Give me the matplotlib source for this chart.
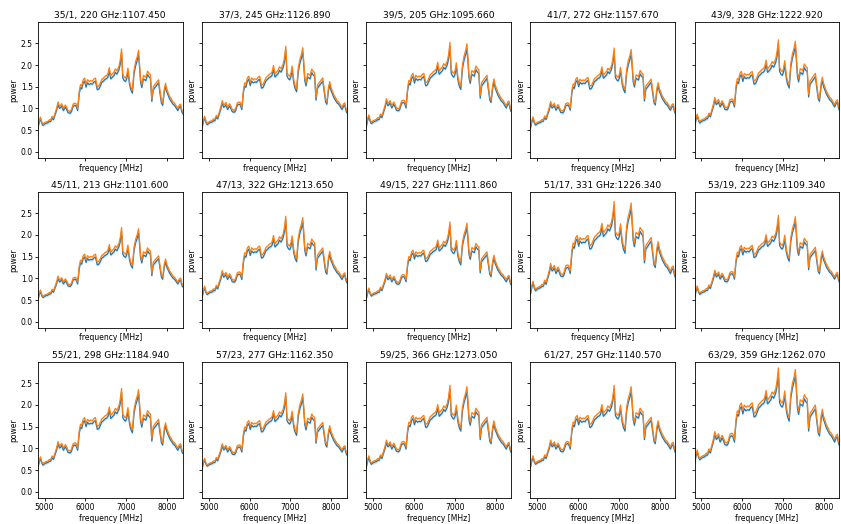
import numpy as np
import matplotlib
matplotlib.use("Agg")
import matplotlib.pyplot as plt

# panel titles, row by row
titles = [
    "35/1, 220 GHz:1107.450", "37/3, 245 GHz:1126.890", "39/5, 205 GHz:1095.660",
    "41/7, 272 GHz:1157.670", "43/9, 328 GHz:1222.920",
    "45/11, 213 GHz:1101.600", "47/13, 322 GHz:1213.650", "49/15, 227 GHz:1111.860",
    "51/17, 331 GHz:1226.340", "53/19, 223 GHz:1109.340",
    "55/21, 298 GHz:1184.940", "57/23, 277 GHz:1162.350", "59/25, 366 GHz:1273.050",
    "61/27, 257 GHz:1140.570", "63/29, 359 GHz:1262.070",
]

# peak power (orange)
peaks = [2.37, 2.43, 2.52, 2.39, 2.58,
         2.17, 2.43, 2.30, 2.77, 2.45,
         2.38, 2.28, 2.45, 2.45, 2.85]

# spectrum shape
freq = [4837, 4870, 4900, 4935, 4960, 5000, 5040, 5080, 5120, 5150,
        5185, 5220, 5260, 5300, 5330, 5365, 5400, 5420, 5460, 5510,
        5545, 5575, 5630, 5660, 5700, 5740, 5770, 5810, 5850, 5880,
        5910, 5945, 5980, 6015, 6050, 6090, 6130, 6170, 6210, 6245,
        6290, 6330, 6370, 6400, 6440, 6480, 6520, 6550, 6585, 6620,
        6660, 6700, 6730, 6770, 6820, 6850, 6885, 6915, 6950, 6980,
        7010, 7040, 7080, 7110, 7150, 7190, 7230, 7270, 7300, 7320,
        7350, 7380, 7420, 7450, 7480, 7520, 7560, 7590, 7625, 7660,
        7700, 7740, 7790, 7820, 7860, 7890, 7930, 7960, 7990, 8030,
        8060, 8100, 8140, 8180, 8220, 8260, 8300, 8330, 8350, 8376]

orange = [0.57, 0.72, 0.80, 0.68, 0.64, 0.67, 0.69, 0.70, 0.74, 0.73,
          0.82, 0.78, 0.90, 1.02, 1.15, 1.05, 1.08, 1.11, 1.00, 1.08,
          1.02, 0.95, 0.93, 0.98, 1.10, 1.12, 1.11, 1.00, 1.40, 1.55,
          1.52, 1.66, 1.70, 1.56, 1.66, 1.62, 1.64, 1.63, 1.68, 1.70,
          1.50, 1.52, 1.60, 1.67, 1.70, 1.74, 1.76, 1.80, 1.94, 1.75,
          1.80, 1.84, 1.91, 1.87, 1.97, 2.10, 2.37, 1.78, 1.72, 1.70,
          1.76, 1.93, 1.62, 1.50, 1.42, 1.88, 2.08, 2.20, 2.34, 2.10,
          1.67, 1.55, 1.76, 1.74, 1.72, 1.86, 1.80, 1.78, 1.22, 1.50,
          1.55, 1.60, 1.66, 1.45, 1.18, 1.12, 1.45, 1.58, 1.45, 1.35,
          1.28, 1.22, 1.15, 1.12, 1.06, 1.00, 1.08, 1.10, 1.00, 0.93]

blue = [0.54, 0.68, 0.76, 0.65, 0.61, 0.64, 0.66, 0.67, 0.70, 0.70,
        0.78, 0.74, 0.86, 0.97, 1.10, 1.00, 1.03, 1.06, 0.95, 1.03,
        0.97, 0.90, 0.89, 0.93, 1.05, 1.07, 1.06, 0.95, 1.34, 1.48,
        1.45, 1.59, 1.63, 1.49, 1.59, 1.55, 1.57, 1.56, 1.61, 1.63,
        1.43, 1.45, 1.53, 1.60, 1.63, 1.67, 1.69, 1.72, 1.86, 1.68,
        1.72, 1.76, 1.83, 1.79, 1.89, 2.01, 2.28, 1.70, 1.64, 1.62,
        1.68, 1.85, 1.55, 1.43, 1.35, 1.80, 1.99, 2.11, 2.24, 2.01,
        1.60, 1.48, 1.68, 1.66, 1.64, 1.78, 1.72, 1.70, 1.16, 1.43,
        1.48, 1.53, 1.59, 1.38, 1.12, 1.07, 1.38, 1.51, 1.38, 1.29,
        1.22, 1.16, 1.10, 1.07, 1.01, 0.95, 1.03, 1.05, 0.95, 0.88]

freq = np.array(freq)
orange = np.array(orange)
blue = np.array(blue)

fig, axes = plt.subplots(3, 5, figsize=(8.41, 5.24), dpi=100, sharex=True, sharey=True)
fig.subplots_adjust(left=0.045, right=0.998, top=0.958, bottom=0.05, wspace=0.135, hspace=0.25)

for i, ax in enumerate(axes.flat):
    g = peaks[i] / orange.max()
    b = blue * g
    o = orange * g
    ax.fill_between(freq, b - 0.03, b + 0.03, color="C0", alpha=0.2, lw=0)
    ax.plot(freq, b, color="C0", lw=0.9)
    ax.fill_between(freq, o - 0.03, o + 0.03, color="C1", alpha=0.2, lw=0)
    ax.plot(freq, o, color="C1", lw=0.9)
    ax.set_title(titles[i], fontsize=6.6, pad=3)
    ax.set_xlabel("frequency [MHz]", fontsize=5.5, labelpad=2)
    ax.set_ylabel("power", fontsize=5.5, labelpad=2)
    ax.tick_params(labelsize=5.5, length=2, pad=1.5, width=0.6)
    for s in ax.spines.values():
        s.set_linewidth(0.6)

axes[0, 0].set_xlim(4837, 8376)
axes[0, 0].set_ylim(-0.14, 2.99)
axes[0, 0].set_xticks([5000, 6000, 7000, 8000])
axes[0, 0].set_yticks([0.0, 0.5, 1.0, 1.5, 2.0, 2.5])

plt.savefig("out.png", dpi=100)
